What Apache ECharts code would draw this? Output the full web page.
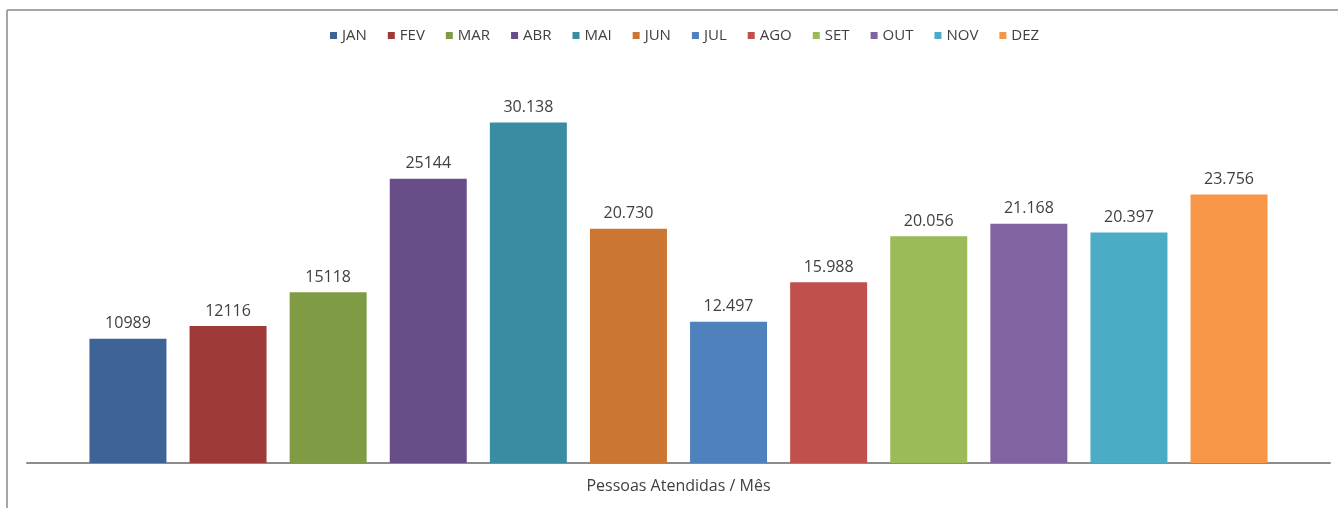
<!DOCTYPE html>
<html>
<head>
<meta charset="utf-8">
<script src="https://cdn.jsdelivr.net/npm/echarts@6/dist/echarts.min.js"></script>
<style>
  html, body { margin: 0; padding: 0; background: #fff; }
  #chart { width: 1338px; height: 508px; }
</style>
</head>
<body>
<div id="chart"></div>
<script>
// Dados
const category = ['Pessoas Atendidas / Mês']
const months = ['JAN', 'FEV', 'MAR', 'ABR', 'MAI', 'JUN', 'JUL', 'AGO', 'SET', 'OUT', 'NOV', 'DEZ']
const values = [10989, 12116, 15118, 25144, 30138, 20730, 12497, 15988, 20056, 21168, 20397, 23756]
const labels = ['10989', '12116', '15118', '25144', '30.138', '20.730', '12.497', '15.988', '20.056', '21.168', '20.397', '23.756']
const colors = ['#3e6496', '#9e3b39', '#7f9c45', '#674e88', '#3a8ca2', '#cb7733',
                '#4f81bd', '#c0504d', '#9bbb59', '#8064a2', '#4bacc6', '#f79646']

const chart = echarts.init(document.getElementById('chart'))

const series = months.map((m, i) => ({
  name: m,
  type: 'bar',
  data: [values[i]],
  barWidth: 77,
  barGap: '30%',
  itemStyle: { color: colors[i] },
  label: {
    show: true,
    position: 'top',
    distance: 7,
    formatter: () => labels[i],
    color: '#404040',
    fontSize: 16,
    fontFamily: 'Open Sans'
  }
}))

chart.setOption({
  animation: false,
  backgroundColor: '#fff',
  color: colors,
  legend: {
    top: 23,
    left: 325,
    itemWidth: 7,
    itemHeight: 7,
    itemGap: 21,
    icon: 'rect',
    textStyle: { color: '#404040', fontSize: 15, fontFamily: 'Open Sans' }
  },
  grid: { left: 27, right: 8, top: 11, bottom: 45 },
  xAxis: {
    type: 'category',
    data: category,
    axisLine: { lineStyle: { color: '#8c8c8c', width: 2 } },
    axisTick: { show: false },
    axisLabel: { color: '#404040', fontSize: 16, fontFamily: 'Open Sans', margin: 15 }
  },
  yAxis: {
    type: 'value',
    min: 0,
    max: 40000,
    show: false,
    splitLine: { show: false }
  },
  graphic: [
    { type: 'line', shape: { x1: 7, y1: 10, x2: 1338, y2: 10 }, style: { stroke: '#a6a6a6', lineWidth: 2 } },
    { type: 'line', shape: { x1: 7, y1: 10, x2: 7, y2: 508 }, style: { stroke: '#a6a6a6', lineWidth: 2 } }
  ],
  series: series
})

window.addEventListener('resize', () => chart.resize())
</script>
</body>
</html>
